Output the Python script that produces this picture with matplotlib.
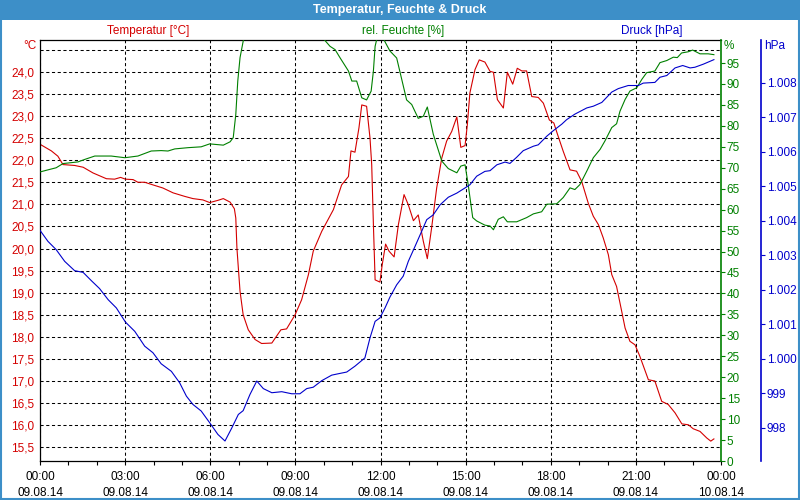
import matplotlib
matplotlib.use("Agg")
import matplotlib.pyplot as plt
from matplotlib.patches import Rectangle

plt.rcParams['font.family'] = ['Liberation Sans', 'DejaVu Sans']
plt.rcParams['font.size'] = 8.5

# Temperatur [°C] (Stunden ab 09.08.14 00:00)
temp_t = [0.0, 0.40, 0.63, 0.81, 1.22, 1.52, 1.87, 2.34, 2.63, 2.84, 3.01, 3.28, 3.45, 3.69,
          3.98, 4.33, 4.69, 5.10, 5.39, 5.74, 5.98, 6.27, 6.46, 6.70, 6.85, 6.90, 6.94, 6.99,
          7.05, 7.16, 7.34, 7.58, 7.81, 8.17, 8.49, 8.69, 8.99, 9.22, 9.46, 9.63, 9.93, 10.34,
          10.63, 10.87, 10.96, 11.10, 11.24, 11.34, 11.51, 11.63, 11.69, 11.75, 11.81, 11.98,
          12.06, 12.18, 12.30, 12.48, 12.63, 12.83, 12.98, 13.16, 13.33, 13.51, 13.65, 13.80,
          13.98, 14.16, 14.33, 14.51, 14.69, 14.83, 14.98, 15.06, 15.15, 15.33, 15.48, 15.68,
          15.86, 15.98, 16.12, 16.33, 16.47, 16.66, 16.82, 16.98, 17.15, 17.33, 17.56, 17.74,
          17.95, 18.11, 18.23, 18.44, 18.68, 18.91, 19.09, 19.32, 19.50, 19.68, 19.85, 20.03,
          20.15, 20.32, 20.50, 20.62, 20.79, 20.97, 21.14, 21.44, 21.67, 21.91, 22.14, 22.38,
          22.62, 22.85, 23.02, 23.26, 23.50, 23.64, 23.75]
temp_v = [22.36, 22.21, 22.09, 21.90, 21.88, 21.84, 21.71, 21.58, 21.57, 21.61, 21.57, 21.56,
          21.50, 21.50, 21.44, 21.37, 21.26, 21.18, 21.13, 21.10, 21.04, 21.09, 21.13, 21.05,
          20.90, 20.69, 20.01, 19.56, 19.03, 18.50, 18.16, 17.94, 17.85, 17.86, 18.16, 18.18,
          18.50, 18.84, 19.41, 19.94, 20.39, 20.88, 21.44, 21.63, 22.21, 22.18, 22.73, 23.25,
          23.22, 22.50, 21.90, 20.54, 19.29, 19.24, 19.63, 20.10, 19.94, 19.81, 20.54, 21.22,
          20.99, 20.63, 20.76, 20.16, 19.77, 20.46, 21.37, 22.05, 22.43, 22.65, 22.98, 22.29,
          22.33, 22.80, 23.52, 24.05, 24.27, 24.22, 24.01, 23.99, 23.37, 23.18, 23.99, 23.72,
          24.08, 24.02, 24.02, 23.44, 23.42, 23.29, 22.91, 22.84, 22.60, 22.20, 21.78, 21.75,
          21.52, 21.03, 20.73, 20.54, 20.24, 19.86, 19.41, 19.14, 18.58, 18.20, 17.90, 17.82,
          17.56, 17.03, 17.00, 16.54, 16.47, 16.28, 16.03, 16.01, 15.92, 15.86, 15.71, 15.64,
          15.69]

# rel. Feuchte [%]
hum_t = [0.0, 0.28, 0.57, 0.81, 1.34, 1.58, 1.93, 2.51, 2.99, 3.22, 3.45, 3.92, 4.27, 4.51,
         4.75, 5.22, 5.68, 5.98, 6.46, 6.70, 6.81, 6.90, 6.97, 7.05, 7.16, 7.22, 9.94, 10.04,
         10.22, 10.40, 10.57, 10.87, 10.99, 11.16, 11.34, 11.51, 11.67, 11.75, 11.81, 11.88,
         12.09, 12.18, 12.33, 12.57, 12.92, 13.10, 13.33, 13.51, 13.65, 13.86, 14.16, 14.39,
         14.69, 14.83, 14.98, 15.09, 15.25, 15.39, 15.68, 15.86, 15.98, 16.15, 16.33, 16.47,
         16.80, 17.15, 17.39, 17.68, 17.86, 18.21, 18.44, 18.68, 18.85, 19.03, 19.27, 19.50,
         19.74, 19.91, 20.15, 20.32, 20.44, 20.62, 20.79, 21.03, 21.21, 21.38, 21.67, 21.85,
         22.09, 22.32, 22.46, 22.61, 22.85, 23.00, 23.26, 23.55, 23.75]
hum_v = [69.0, 69.5, 70.0, 71.0, 71.4, 72.0, 72.8, 72.8, 72.4, 72.6, 72.8, 74.0, 74.1, 74.0,
         74.5, 74.8, 75.0, 75.7, 75.4, 76.2, 77.2, 82.7, 90.7, 96.3, 100.2, 101.5, 101.5, 100.4,
         99.0, 98.2, 96.3, 93.1, 90.7, 90.7, 86.7, 86.2, 88.3, 93.1, 99.0, 101.0,
         101.0, 99.8, 97.9, 96.2, 86.2, 85.1, 81.8, 82.3, 84.5, 78.0, 71.6, 69.8,
         68.8, 70.4, 70.7, 66.0, 58.1, 57.3, 56.3, 56.1, 55.2, 57.7, 58.3, 57.1,
         57.1, 58.1, 59.0, 59.5, 61.3, 61.4, 62.9, 65.2, 64.8, 66.0, 69.2, 72.4,
         74.4, 76.4, 79.6, 80.5, 83.5, 86.3, 88.3, 89.1, 91.1, 92.7, 93.1, 95.1,
         95.6, 96.4, 96.3, 97.4, 97.7, 98.1, 97.2, 97.2, 97.0]

# Druck [hPa]
pres_t = [0.0, 0.28, 0.57, 0.87, 1.22, 1.52, 1.81, 2.10, 2.40, 2.69, 3.01, 3.34, 3.69, 3.98,
          4.27, 4.63, 4.92, 5.16, 5.39, 5.68, 5.98, 6.27, 6.52, 6.76, 6.99, 7.16, 7.40, 7.64,
          7.87, 8.17, 8.52, 8.87, 9.16, 9.40, 9.63, 9.93, 10.28, 10.51, 10.81, 11.10, 11.45,
          11.63, 11.81, 11.98, 12.16, 12.33, 12.57, 12.80, 12.98, 13.22, 13.45, 13.63, 13.86,
          14.10, 14.39, 14.69, 14.98, 15.15, 15.39, 15.68, 15.86, 16.10, 16.39, 16.56, 16.80,
          17.03, 17.39, 17.56, 17.86, 18.09, 18.39, 18.56, 18.85, 19.27, 19.50, 19.80, 20.15,
          20.38, 20.73, 21.09, 21.26, 21.67, 21.85, 22.09, 22.38, 22.65, 22.91, 23.08, 23.38,
          23.75]
pres_v = [1003.72, 1003.40, 1003.16, 1002.82, 1002.55, 1002.50, 1002.26, 1002.03, 1001.71,
          1001.47, 1001.06, 1000.79, 1000.36, 1000.17, 999.85, 999.63, 999.30, 998.91, 998.67,
          998.48, 998.14, 997.80, 997.61, 997.99, 998.38, 998.49, 998.96, 999.35, 999.13,
          999.01, 999.04, 998.98, 998.98, 999.13, 999.17, 999.36, 999.52, 999.56, 999.61,
          999.78, 1000.02, 1000.60, 1001.08, 1001.18, 1001.47, 1001.78, 1002.14, 1002.39,
          1002.82, 1003.26, 1003.69, 1004.03, 1004.17, 1004.46, 1004.68, 1004.80, 1004.95,
          1005.04, 1005.29, 1005.43, 1005.45, 1005.62, 1005.70, 1005.66, 1005.84, 1006.03,
          1006.16, 1006.20, 1006.45, 1006.61, 1006.80, 1006.93, 1007.09, 1007.27, 1007.32,
          1007.43, 1007.73, 1007.83, 1007.92, 1007.92, 1007.99, 1008.01, 1008.16, 1008.21,
          1008.43, 1008.50, 1008.43, 1008.45, 1008.54, 1008.67]

x_ticks = [0, 3, 6, 9, 12, 15, 18, 21, 24]
x_labels = ["00:00\n09.08.14", "03:00\n09.08.14", "06:00\n09.08.14", "09:00\n09.08.14",
            "12:00\n09.08.14", "15:00\n09.08.14", "18:00\n09.08.14", "21:00\n09.08.14",
            "00:00\n10.08.14"]
temp_ticks = [15.5 + 0.5 * i for i in range(19)]
hum_ticks = list(range(0, 100, 5))
pres_ticks = list(range(998, 1009))

RED = '#d40000'
GREEN = '#008000'
BLUE = '#0000cc'
BAR = '#3d8fc8'

fig = plt.figure(figsize=(8, 5), dpi=100)
fig.patch.set_facecolor('white')

# title bar and frame
fig.add_artist(Rectangle((0, 1 - 20 / 500), 1, 20 / 500, transform=fig.transFigure,
                         facecolor=BAR, edgecolor='none'))
fig.add_artist(Rectangle((0.001, 0.002), 0.998, 0.996, transform=fig.transFigure,
                         facecolor='none', edgecolor=BAR, linewidth=1.5))
fig.text(0.5, 1 - 10 / 500, "Temperatur, Feuchte & Druck", color='white', weight='bold',
         ha='center', va='center', fontsize=9)

ax1 = fig.add_axes([40 / 800, 39 / 500, 681 / 800, 421 / 500])
ax2 = ax1.twinx()
ax3 = ax1.twinx()

ax1.plot(temp_t, temp_v, color=RED, lw=0.8)
ax2.plot(hum_t, hum_v, color=GREEN, lw=0.8)
ax3.plot(pres_t, pres_v, color=BLUE, lw=0.8)

ax1.set_xlim(0, 24)
ax1.set_ylim(15.19, 24.72)
ax2.set_ylim(0, 100.5)
ax3.set_ylim(997.03, 1009.24)

# x axis
ax1.set_xticks(x_ticks)
ax1.set_xticklabels(x_labels, linespacing=1.45)
ax1.set_xticks(range(25), minor=True)
ax1.tick_params(axis='x', which='both', length=3, width=0.8, pad=4, colors='black')

# temperature axis
ax1.set_yticks(temp_ticks)
ax1.set_yticklabels([f"{v:.1f}".replace('.', ',') if v < 24.4 else '' for v in temp_ticks])
ax1.tick_params(axis='y', length=0, pad=4, labelcolor=RED)
ax1.grid(True, which='major', color='black', linestyle=(0, (3, 2.5)), linewidth=0.75)
ax1.spines['right'].set_visible(False)
for s in ['left', 'top', 'bottom']:
    ax1.spines[s].set_linewidth(0.9)

# humidity axis
ax2.set_yticks(hum_ticks)
ax2.set_yticklabels([str(v) for v in hum_ticks])
ax2.tick_params(axis='y', length=3, width=0.8, pad=1, colors=GREEN)
for s in ['left', 'top', 'bottom']:
    ax2.spines[s].set_visible(False)
ax2.spines['right'].set_color(GREEN)
ax2.spines['right'].set_linewidth(1.2)

# pressure axis
ax3.spines['right'].set_position(('axes', (761 - 40) / 681))
for s in ['left', 'top', 'bottom']:
    ax3.spines[s].set_visible(False)
ax3.spines['right'].set_color(BLUE)
ax3.spines['right'].set_linewidth(1.2)
ax3.set_yticks(pres_ticks)
ax3.set_yticklabels([f"{v:,}".replace(',', '.') for v in pres_ticks])
ax3.tick_params(axis='y', length=3, width=0.8, pad=1, colors=BLUE)

# unit labels
fig.text(37 / 800, 1 - 46 / 500, "°C", color=RED, ha='right', va='center')
fig.text(724 / 800, 1 - 46 / 500, "%", color=GREEN, ha='left', va='center')
fig.text(764 / 800, 1 - 46 / 500, "hPa", color=BLUE, ha='left', va='center')

# series headers
fig.text(148 / 800, 1 - 31 / 500, "Temperatur [°C]", color=RED, ha='center', va='center')
fig.text(403 / 800, 1 - 31 / 500, "rel. Feuchte [%]", color=GREEN, ha='center', va='center')
fig.text(652 / 800, 1 - 31 / 500, "Druck [hPa]", color=BLUE, ha='center', va='center')

fig.savefig("out.png", dpi=100)
